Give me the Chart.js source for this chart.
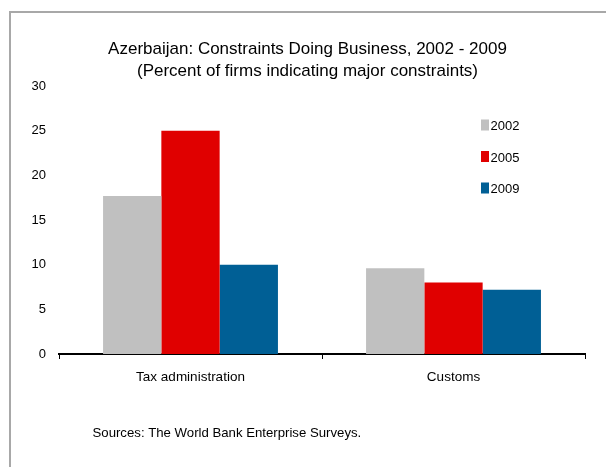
<!DOCTYPE html>
<html>
<head>
<meta charset="utf-8">
<script src="https://cdn.jsdelivr.net/npm/chart.js@4.4.1/dist/chart.umd.min.js"></script>
<style>
  body { margin:0; background:#fff; }
  #wrap { position:relative; width:606px; height:467px; overflow:hidden; }
  #c { position:absolute; left:0; top:0; }
  .edge { position:absolute; background:#a8a8a8; }
</style>
</head>
<body>
<div id="wrap">
  <canvas id="c" width="606" height="467"></canvas>
  <div class="edge" style="left:9px;top:11px;width:2px;height:456px"></div>
  <div class="edge" style="left:9px;top:11px;width:597px;height:2px"></div>
</div>
<script>
const categories = ['Tax administration', 'Customs'];
const years = ['2002', '2005', '2009'];
const v2002 = [17.7, 9.6];
const v2005 = [25, 8.0];
const v2009 = [10.0, 7.2];
const colours = ['#c0c0c0', '#e00000', '#005f95'];
const yTicks = [0, 5, 10, 15, 20, 25, 30];
const titleLines = ['Azerbaijan: Constraints Doing Business, 2002 - 2009', '(Percent of firms indicating major constraints)'];
const sourceNote = 'Sources: The World Bank Enterprise Surveys.';

const FONT = "'Liberation Sans', Arial, sans-serif";

// title, legend box and source line, drawn on top of the chart
const extras = {
    id:'extras',
    afterDraw(chart){
        const ctx = chart.ctx;
        ctx.save();
        ctx.fillStyle = '#000';

        ctx.font = '17px ' + FONT;
        ctx.textAlign = 'center';
        ctx.textBaseline = 'middle';
        ctx.fillText(titleLines[0], 307.5, 49.5);
        ctx.fillText(titleLines[1], 307.5, 71.5);

        ctx.font = '13px ' + FONT;
        ctx.textAlign = 'left';
        ctx.textBaseline = 'alphabetic';
        const base = [130, 161.5, 193];
        chart.data.datasets.forEach(function(ds, i){
            ctx.fillStyle = ds.backgroundColor;
            ctx.fillRect(481, base[i] - 10.5, 8, 11);
            ctx.fillStyle = '#000';
            ctx.fillText(ds.label, 490.5, base[i]);
        });

        ctx.font = '13.2px ' + FONT;
        ctx.fillText(sourceNote, 92.5, 436.7);
        ctx.restore();
    }
};

const chart = new Chart(document.getElementById('c'), {
    type:'bar',
    data:{
        labels:categories,
        datasets:[
            {label:years[0], data:v2002, backgroundColor:colours[0]},
            {label:years[1], data:v2005, backgroundColor:colours[1]},
            {label:years[2], data:v2009, backgroundColor:colours[2]}
        ]
    },
    options:{
        responsive:false,
        animation:false,
        datasets:{
            bar:{ barPercentage:1, categoryPercentage:0.665, borderWidth:0 }
        },
        layout:{ padding:{ left:0, right:21, top:86, bottom:0 } },
        plugins:{
            legend:{ display:false },
            tooltip:{ enabled:false },
            title:{ display:false }
        },
        scales:{
            x:{
                grid:{ display:true, drawOnChartArea:false, offset:true, tickLength:5, color:'#000', lineWidth:1 },
                border:{ display:true, color:'#000', width:2 },
                ticks:{ color:'#000', padding:10, font:{ family:FONT, size:13.5 } },
                afterFit(scale){ scale.height = 113; }
            },
            y:{
                min:0,
                max:30,
                afterBuildTicks(scale){ scale.ticks = yTicks.map(v => ({value:v})); },
                grid:{ display:false, drawTicks:false },
                border:{ display:false },
                ticks:{ color:'#000', padding:13, font:{ family:FONT, size:13 } },
                afterFit(scale){ scale.width = 59; }
            }
        }
    },
    plugins:[extras]
});
</script>
</body>
</html>
